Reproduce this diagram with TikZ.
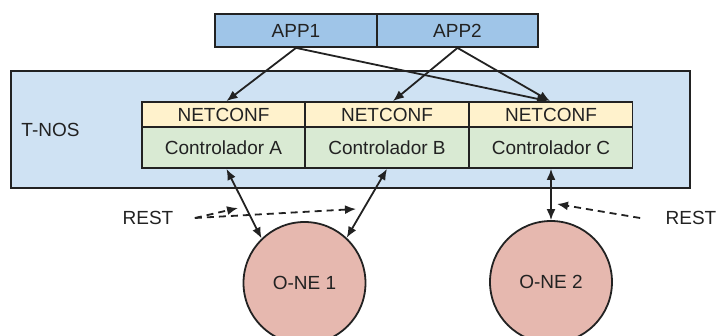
\documentclass[tikz,border=0pt]{standalone}
\usepackage{fontspec}
\setmainfont{Liberation Sans}
\usetikzlibrary{arrows.meta,calc}
\definecolor{appblue}{HTML}{9FC5E8}
\definecolor{tnosblue}{HTML}{CFE2F3}
\definecolor{ncyellow}{HTML}{FFF2CC}
\definecolor{ctgreen}{HTML}{D9EAD3}
\definecolor{onered}{HTML}{E6B8AF}
\definecolor{ink}{HTML}{222222}
\begin{document}
\begin{tikzpicture}[x=1pt,y=-1pt,
  every node/.style={font=\fontsize{19}{22}\selectfont, text=ink},
  box/.style={draw=ink, line width=1.8pt, rectangle, inner sep=0pt},
  appbox/.style={box, fill=appblue, minimum height=33pt},
  ncbox/.style={box, fill=ncyellow, minimum width=163pt, minimum height=25pt},
  ctbox/.style={box, fill=ctgreen, minimum width=163pt, minimum height=41pt},
  onebox/.style={draw=ink, line width=1.8pt, circle, fill=onered, minimum size=122pt, inner sep=0pt},
  arr/.style={draw=ink, line width=1.8pt, -{Latex[length=11pt,width=9pt]}},
  darr/.style={draw=ink, line width=1.8pt, {Latex[length=11pt,width=9pt]}-{Latex[length=11pt,width=9pt]}},
  restarr/.style={draw=ink, line width=1.8pt, dash pattern=on 7pt off 5pt, -{Latex[length=11pt,width=9pt]}}
]
\useasboundingbox (0,0) rectangle (717,336);
% T-NOS container
\node[box, fill=tnosblue, minimum width=679pt, minimum height=117pt] (tnos) at (350.5,129.5) {};
\node (tnoslabel) at (50.5,130) {T-NOS};
% Apps
\node[appbox, minimum width=162pt] (app1) at (296,30.5) {APP1};
\node[appbox, minimum width=161pt] (app2) at (457.5,30.5) {APP2};
% Controllers
\node[ncbox] (ncA) at (223.5,114.5) {NETCONF};
\node[ncbox] (ncB) at (387,114.5) {NETCONF};
\node[ncbox] (ncC) at (551,114.5) {NETCONF};
\node[ctbox] (ctA) at (223.5,147.5) {Controlador A};
\node[ctbox] (ctB) at (387,147.5) {Controlador B};
\node[ctbox] (ctC) at (551,147.5) {Controlador C};
% O-NE
\node[onebox] (one1) at (304.5,283) {O-NE 1};
\node[onebox] (one2) at (551,282) {O-NE 2};
% App arrows
\draw[arr] (app1.south) -- ([xshift=3pt]ncA.north);
\draw[arr] (app1.south) -- ([xshift=-3pt]ncC.north);
\draw[arr] (app2.south) -- ([xshift=6pt]ncB.north);
\draw[arr] (app2.south) -- ([xshift=-1pt]ncC.north);
% controller <-> O-NE
\draw[darr] ([xshift=3pt]ctA.south) -- (one1.134);
\draw[darr] (ctB.south) -- (one1.47);
\draw[darr] (ctC.south) -- (one2.north);
% REST
\node (rest1) at (148,218) {REST};
\node (rest2) at (691,218) {REST};
\coordinate (r1a) at (238,208);
\coordinate (r1b) at (356,209);
\coordinate (r2) at (557,204);
\draw[restarr] ([xshift=18pt]rest1.east) -- (r1a);
\draw[restarr] ([xshift=18pt]rest1.east) -- (r1b);
\draw[restarr] ([xshift=-22pt]rest2.west) -- (r2);
\end{tikzpicture}
\end{document}
